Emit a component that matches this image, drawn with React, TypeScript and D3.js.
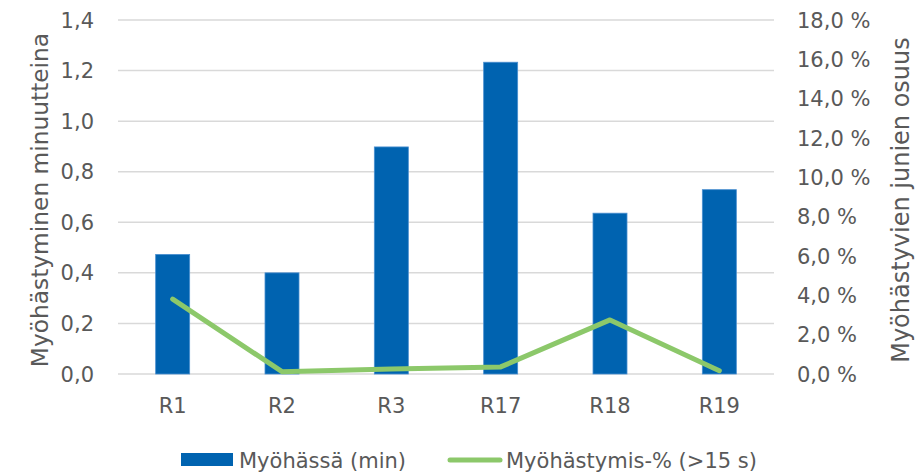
import React from "react";
import * as d3 from "d3";

const categories = ["R1", "R2", "R3", "R17", "R18", "R19"];
const delayMinutes = [0.473, 0.4, 0.898, 1.233, 0.636, 0.729];
const delayedShare = [3.81, 0.12, 0.25, 0.36, 2.75, 0.17];
const leftTicks = [0, 0.2, 0.4, 0.6, 0.8, 1.0, 1.2, 1.4];
const rightTicks = [0, 2, 4, 6, 8, 10, 12, 14, 16, 18];
const barLabel = "Myöhässä (min)";
const lineLabel = "Myöhästymis-% (>15 s)";
const leftTitle = "Myöhästyminen minuutteina";
const rightTitle = "Myöhästyvien junien osuus";

const W = 922;
const H = 475;
const FONT = "'DejaVu Sans', Verdana, sans-serif";
const TEXT = "#595959";
const BAR = "#0063B0";
const LINE = "#8CC86A";
const GRID = "#D9D9D9";

export default function App() {
  const x = d3
    .scaleBand<string>()
    .domain(categories)
    .range([118, 774])
    .paddingInner(0.689)
    .paddingOuter(0.3445);
  const yL = d3.scaleLinear().domain([0, 1.4]).range([374, 20]);
  const yR = d3.scaleLinear().domain([0, 18]).range([374, 20]);
  const fmtL = (v: number) => d3.format(".1f")(v).replace(".", ",");
  const fmtR = (v: number) => d3.format(".1f")(v).replace(".", ",") + " %";

  const line = d3
    .line<number>()
    .x((_, i) => (x(categories[i]) as number) + x.bandwidth() / 2)
    .y((d) => yR(d));

  return (
    <svg
      width={W}
      height={H}
      style={{ position: "absolute", left: 0, top: 0, background: "#fff" }}
      fontFamily={FONT}
    >
      {leftTicks.map((t) => (
        <line
          key={"g" + t}
          x1={118}
          x2={774}
          y1={yL(t)}
          y2={yL(t)}
          stroke={GRID}
          strokeWidth={1.5}
        />
      ))}
      {leftTicks.map((t) => (
        <text
          key={"l" + t}
          x={94}
          y={yL(t)}
          dy="0.36em"
          textAnchor="end"
          fontSize={21}
          fill={TEXT}
        >
          {fmtL(t)}
        </text>
      ))}
      {rightTicks.map((t) => (
        <text
          key={"r" + t}
          x={797}
          y={yR(t)}
          dy="0.36em"
          textAnchor="start"
          fontSize={21}
          fill={TEXT}
        >
          {fmtR(t)}
        </text>
      ))}
      {categories.map((c, i) => (
        <rect
          key={"b" + c}
          x={x(c)}
          y={yL(delayMinutes[i])}
          width={x.bandwidth()}
          height={yL(0) - yL(delayMinutes[i])}
          fill={BAR}
          stroke="#4A8FD0"
          strokeWidth={0.8}
        />
      ))}
      <path
        d={line(delayedShare) || ""}
        fill="none"
        stroke={LINE}
        strokeWidth={5}
        strokeLinecap="round"
        strokeLinejoin="round"
      />
      {categories.map((c) => (
        <text
          key={"c" + c}
          x={(x(c) as number) + x.bandwidth() / 2}
          y={413}
          textAnchor="middle"
          fontSize={21}
          fill={TEXT}
        >
          {c}
        </text>
      ))}
      <text
        transform="translate(40,200) rotate(-90)"
        textAnchor="middle"
        dy="0.36em"
        fontSize={23.3}
        fill={TEXT}
      >
        {leftTitle}
      </text>
      <text
        transform="translate(900,200) rotate(-90)"
        textAnchor="middle"
        dy="0.36em"
        fontSize={24}
        fill={TEXT}
      >
        {rightTitle}
      </text>
      <rect x={181} y={453} width={52} height={13} fill={BAR} />
      <text x={239} y={460} dy="0.36em" fontSize={21} fill={TEXT}>
        {barLabel}
      </text>
      <line
        x1={450}
        x2={500}
        y1={460}
        y2={460}
        stroke={LINE}
        strokeWidth={5}
        strokeLinecap="round"
      />
      <text x={506} y={460} dy="0.36em" fontSize={21} fill={TEXT}>
        {lineLabel}
      </text>
    </svg>
  );
}
